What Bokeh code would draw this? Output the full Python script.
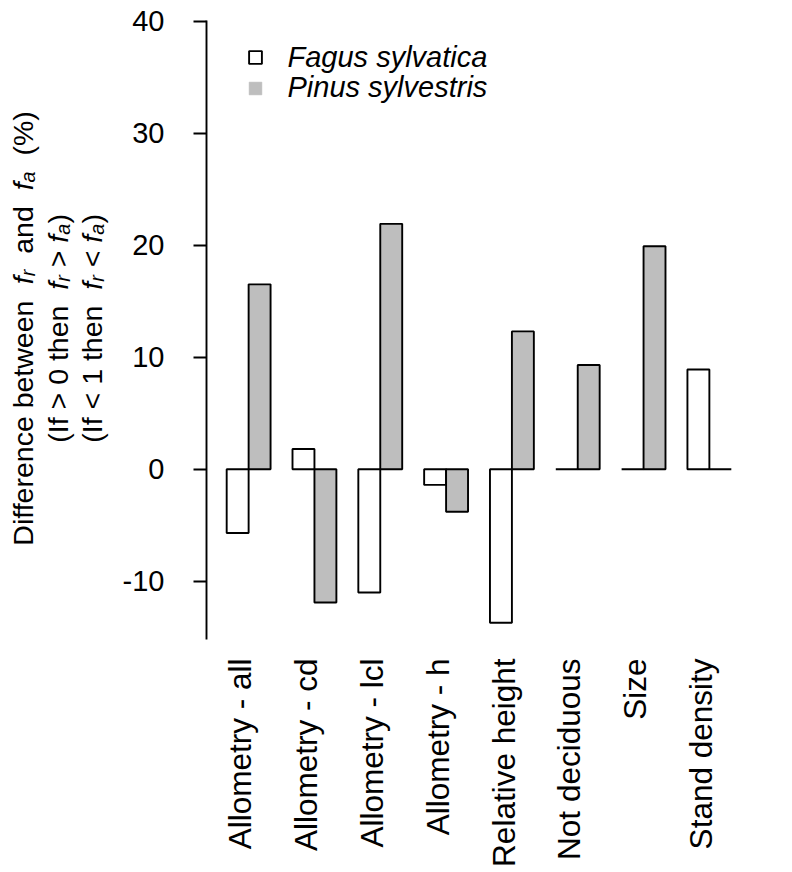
import math
from bokeh.plotting import figure
from bokeh.layouts import row
from bokeh.models import Range1d, FixedTicker, Label, Legend, LegendItem, ColumnDataSource
from bokeh.embed import file_html
from bokeh.resources import INLINE

# ---------------- data ----------------
categories = ["Allometry - all", "Allometry - cd", "Allometry - lcl", "Allometry - h",
              "Relative height", "Not deciduous", "Size", "Stand density"]
fagus = [-5.7, 1.8, -11.0, -1.4, -13.7, 0.0, 0.0, 8.9]
pinus = [16.5, -11.9, 21.9, -3.8, 12.3, 9.3, 19.9, 0.0]
y_ticks = [-10, 0, 10, 20, 30, 40]
y_tick_labels = ["-10", "0", "10", "20", "30", "40"]
series_names = ["Fagus sylvatica", "Pinus sylvestris"]

# ---------------- layout ----------------
FONT = "Liberation Sans"
FS = 29
n = len(categories)
x_f = [3 * i + 1.5 for i in range(n)]
x_p = [3 * i + 2.5 for i in range(n)]
x_c = [3 * i + 2 - 0.38 for i in range(n)]   # label anchor (R-style perpendicular label offset)

PX_X = 21.95
PX_Y = 11.2
X0, X1 = 0.08, 24.92
Y0, Y1 = -15.2, 40.05
FW = round((X1 - X0) * PX_X)
FH = round((Y1 - Y0) * PX_Y)
ORIGIN = 1           # page offset of the layout observed in the screenshot
LEFT_W = 118         # width of the side panel holding the rotated y-axis title
FRAME_LEFT_PAGE = 207
BL = FRAME_LEFT_PAGE - ORIGIN - LEFT_W
BT = 20

y_range = Range1d(Y0, Y1)
p = figure(frame_width=FW, frame_height=FH,
           x_range=Range1d(X0, X1), y_range=y_range,
           output_backend="svg", toolbar_location=None,
           min_border_left=BL, min_border_top=BT, min_border_right=12, min_border_bottom=0)
p.outline_line_color = None
p.xgrid.visible = False
p.ygrid.visible = False
p.background_fill_color = "white"

LW = 1.9
src_f = ColumnDataSource(dict(x=x_f, top=fagus))
src_p = ColumnDataSource(dict(x=x_p, top=pinus))
p.vbar(x="x", top="top", bottom=0, width=1, source=src_f,
       fill_color="white", line_color="black", line_width=LW)
p.vbar(x="x", top="top", bottom=0, width=1, source=src_p,
       fill_color="#BEBEBE", line_color="black", line_width=LW)

# y axis
ya = p.yaxis[0]
ya.ticker = FixedTicker(ticks=y_ticks)
ya.major_label_overrides = {t: s for t, s in zip(y_ticks, y_tick_labels)}
ya.minor_tick_line_color = None
ya.major_tick_out = 13
ya.major_tick_in = 0
ya.axis_line_color = "black"
ya.axis_line_width = LW
ya.major_tick_line_color = "black"
ya.major_tick_line_width = LW
ya.major_label_text_font = FONT
ya.major_label_text_font_size = f"{FS}px"
ya.major_label_text_color = "black"
ya.major_label_standoff = 29

# x axis
xa = p.xaxis[0]
xa.ticker = FixedTicker(ticks=x_c)
xa.major_label_overrides = {c: lab for c, lab in zip(x_c, categories)}
xa.major_label_orientation = math.pi / 2
xa.axis_line_color = None
xa.major_tick_line_color = None
xa.minor_tick_line_color = None
xa.major_label_text_font = FONT
xa.major_label_text_font_size = "31.5px"
xa.major_label_text_color = "black"
xa.major_label_standoff = 13

# ---------------- legend ----------------
nan = float("nan")
r_lf = p.scatter(x=[nan], y=[nan], marker="square", size=12,
                 fill_color="white", line_color="black", line_width=LW)
r_lp = p.scatter(x=[nan], y=[nan], marker="square", size=12,
                 fill_color="#BEBEBE", line_color="#BEBEBE", line_width=0.5)

FRAME_BOTTOM_PAGE = ORIGIN + BT + FH

def mk_legend(label, rend, loc):
    lg = Legend(items=[LegendItem(label=label, renderers=[rend])], location=loc,
                glyph_width=32, glyph_height=32, label_standoff=17,
                label_text_font=FONT, label_text_font_size=f"{FS}px",
                label_text_font_style="italic", label_text_color="black",
                padding=0, margin=0, spacing=0, border_line_color=None,
                background_fill_alpha=0, label_height=20)
    p.add_layout(lg)

mk_legend(series_names[0], r_lf, (239.5 - FRAME_LEFT_PAGE, FRAME_BOTTOM_PAGE - 74.5))
mk_legend(series_names[1], r_lp, (239.5 - FRAME_LEFT_PAGE, FRAME_BOTTOM_PAGE - 105))

# ---------------- side panel with the y-axis title (shares the y range) ----------------
side = figure(frame_width=LEFT_W, frame_height=FH, x_range=Range1d(0, LEFT_W), y_range=y_range,
              output_backend="svg", toolbar_location=None,
              x_axis_location=None, y_axis_location=None,
              min_border_left=0, min_border_right=0, min_border_top=BT, min_border_bottom=0)
side.outline_line_color = None
side.xgrid.visible = False
side.ygrid.visible = False

AFM = {" ": 278, "(": 333, ")": 333, "%": 889, "<": 584, ">": 584, "0": 556, "1": 556,
       "I": 278, "D": 722, "a": 556, "b": 556, "c": 500, "d": 556, "e": 556, "f": 278,
       "h": 556, "i": 222, "n": 556, "r": 333, "t": 278, "w": 722}

def tw(s, size):
    return sum(AFM.get(ch, 556) for ch in s) / 1000.0 * size

def page_to_data_y(py):
    return Y0 + (FRAME_BOTTOM_PAGE - py) / PX_Y

SUB = 0.7
line1 = [("Difference between  ", "normal", 1), ("f", "italic", 1), ("r", "italic", SUB),
         ("  and  ", "normal", 1), ("f", "italic", 1), ("a", "italic", SUB), ("  (%)", "normal", 1)]
line2 = [("(If > 0 then  ", "normal", 1), ("f", "italic", 1), ("r", "italic", SUB),
         (" > ", "normal", 1), ("f", "italic", 1), ("a", "italic", SUB), (")", "normal", 1)]
line3 = [("(If < 1 then  ", "normal", 1), ("f", "italic", 1), ("r", "italic", SUB),
         (" < ", "normal", 1), ("f", "italic", 1), ("a", "italic", SUB), (")", "normal", 1)]

CENTER_Y = 329

def put_line(pieces, base_x, size):
    total = sum(tw(t, size * s) for t, _, s in pieces)
    start_py = CENTER_Y + total / 2.0    # bottom end (page y)
    off = 0.0
    for t, style, s in pieces:
        fs = size * s
        w = tw(t, fs)
        lead = len(t) - len(t.lstrip(" "))
        txt = t.strip(" ")
        if txt:
            shift = 5 if s < 1 else 0
            py = start_py - off - tw(" " * lead, fs)
            side.add_layout(Label(x=base_x + shift - ORIGIN, y=page_to_data_y(py),
                                  x_units="data", y_units="data", text=txt,
                                  angle=math.pi / 2, angle_units="rad",
                                  text_align="left", text_baseline="alphabetic",
                                  text_font=FONT, text_font_size=f"{fs:.1f}px",
                                  text_font_style=style, text_color="black"))
        off += w

put_line(line1, 23, 28.5)
put_line(line2, 58, 28.5)
put_line(line3, 92, 28.5)

layout = row(side, p)
open("out.html", "w").write(file_html(layout, INLINE))
